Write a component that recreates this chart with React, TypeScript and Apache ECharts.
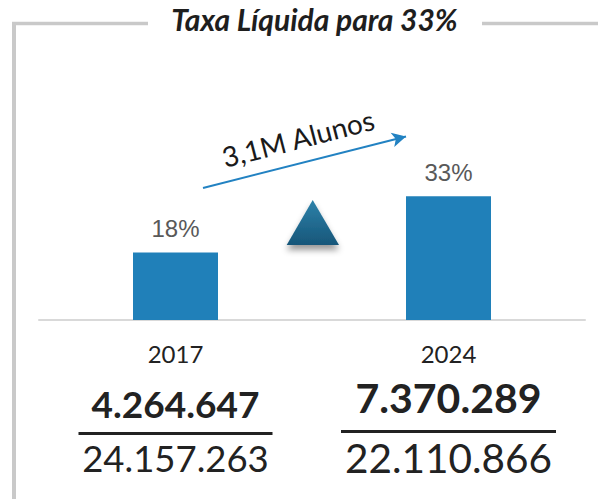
import React, { useEffect, useRef } from 'react';
import * as echarts from 'echarts';

const categories = ['2017', '2024'];
const rates = [18, 33];
const rateLabels = ['18%', '33%'];
const enrolled = ['4.264.647', '7.370.289'];
const population = ['24.157.263', '22.110.866'];
const titleText = 'Taxa Líquida para 33%';
const growthText = '3,1M Alunos';

export default function App() {
  const ref = useRef<HTMLDivElement>(null);

  useEffect(() => {
    const chart = echarts.init(ref.current as HTMLDivElement, null, { renderer: 'svg' });
    const frame = '#c9c9c9';
    const option: any = {
      animation: false,
      grid: { left: 39, right: 13, top: 170, bottom: 179 },
      xAxis: {
        type: 'category',
        data: categories,
        axisLine: { lineStyle: { color: '#d9d9d9', width: 2 } },
        axisTick: { show: false },
        axisLabel: {
          margin: 12,
          interval: 0,
          formatter: (v: string, i: number) => {
            const s = i === 0 ? 'a' : 'b';
            return `{yr${s}|${v}}\n{bold${s}|${enrolled[i]}}\n{rule${s}| }\n{total${s}|${population[i]}}`;
          },
          rich: {
            yra: { fontFamily: 'Lato', fontSize: 24, color: '#222', lineHeight: 42 },
            bolda: { fontFamily: 'Lato', fontSize: 37, fontWeight: 'bold', color: '#222', lineHeight: 58 },
            rulea: { width: 194, height: 3, lineHeight: 3, fontSize: 2, backgroundColor: '#222' },
            totala: { fontFamily: 'Lato', fontSize: 36.5, color: '#222', lineHeight: 45 },
            yrb: { fontFamily: 'Lato', fontSize: 24, color: '#222', lineHeight: 42 },
            boldb: { fontFamily: 'Lato', fontSize: 41, fontWeight: 'bold', color: '#222', lineHeight: 47 },
            ruleb: { width: 215, height: 3, lineHeight: 21, fontSize: 2, backgroundColor: '#222' },
            totalb: { fontFamily: 'Lato', fontSize: 40.5, color: '#222', lineHeight: 30 },
          },
        },
      },
      yAxis: { type: 'value', min: 0, max: 40, show: false },
      series: [
        {
          type: 'bar',
          data: rates,
          barWidth: 85,
          itemStyle: { color: '#2080b9' },
          label: {
            show: true,
            position: 'top',
            distance: 12,
            formatter: (p: any) => rateLabels[p.dataIndex],
            color: '#595959',
            fontFamily: 'Liberation Sans',
            fontSize: 24,
          },
          markLine: {
            silent: true,
            symbol: ['none', 'arrow'],
            symbolSize: [11, 14],
            lineStyle: { color: '#2282c2', width: 2, type: 'solid' },
            label: { show: false },
            data: [[{ x: 203, y: 188 }, { x: 406, y: 136.5 }]],
          },
        },
      ],
      graphic: [
        { type: 'line', shape: { x1: 14, y1: 22, x2: 14, y2: 499 }, style: { stroke: frame, lineWidth: 4 } },
        { type: 'line', shape: { x1: 12, y1: 23.5, x2: 148, y2: 23.5 }, style: { stroke: frame, lineWidth: 3.5 } },
        { type: 'line', shape: { x1: 482, y1: 23.5, x2: 598, y2: 23.5 }, style: { stroke: frame, lineWidth: 3.5 } },
        {
          type: 'text',
          x: 314.5,
          y: 19,
          style: {
            text: titleText,
            align: 'center',
            verticalAlign: 'middle',
            textAlign: 'center',
            textVerticalAlign: 'middle',
            fontFamily: 'Lato',
            fontStyle: 'italic',
            fontWeight: 'bold',
            fontSize: 30,
            fill: '#1e1e1e',
          },
        },
        {
          type: 'text',
          x: 298,
          y: 138,
          rotation: (14.5 * Math.PI) / 180,
          style: {
            text: growthText,
            align: 'center',
            verticalAlign: 'middle',
            textAlign: 'center',
            textVerticalAlign: 'middle',
            fontFamily: 'Lato',
            fontSize: 28,
            fill: '#1a1a1a',
          },
        },
        {
          type: 'polygon',
          shape: { points: [[312.7, 200], [286.7, 245], [339, 245]] },
          style: {
            fill: new echarts.graphic.LinearGradient(0, 0, 0, 1, [
              { offset: 0, color: '#2d82aa' },
              { offset: 1, color: '#175679' },
            ]),
            shadowBlur: 6,
            shadowOffsetY: 5,
            shadowColor: 'rgba(0,0,0,0.4)',
          },
        },
      ],
    };
    chart.setOption(option);
    return () => chart.dispose();
  }, []);

  return <div ref={ref} style={{ position: 'absolute', left: 0, top: 0, width: 598, height: 499 }} />;
}
